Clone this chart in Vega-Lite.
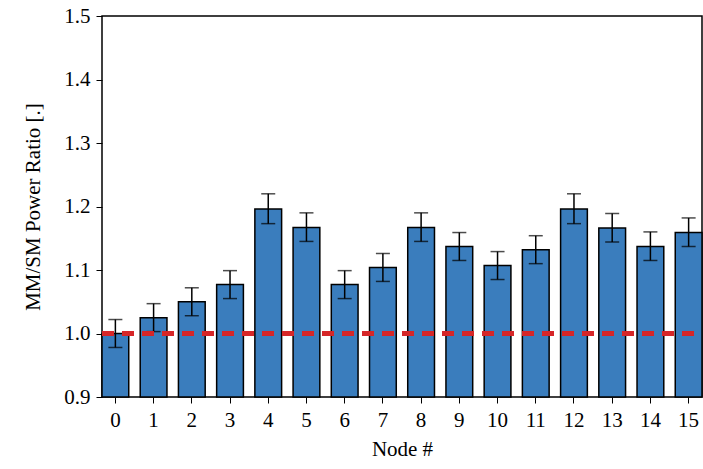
{
"$schema":"https://vega.github.io/schema/vega-lite/v6.json",
"width":600,"height":381,
"autosize":{"type":"none"},
"padding":{"left":102,"top":16,"right":1,"bottom":72},
"config":{"font":"Liberation Serif","view":{"stroke":"black","strokeWidth":1.5},
"axis":{"labelFont":"Liberation Serif","titleFont":"Liberation Serif","labelFontSize":21,"titleFontSize":21,"titleFontWeight":"normal","labelColor":"black","titleColor":"black","domain":false,"grid":false,"tickColor":"black","tickSize":6}},
"data":{"values":[
{"node":"0","v":1.000,"lo":0.978,"hi":1.022},
{"node":"1","v":1.025,"lo":1.003,"hi":1.047},
{"node":"2","v":1.050,"lo":1.028,"hi":1.072},
{"node":"3","v":1.077,"lo":1.055,"hi":1.099},
{"node":"4","v":1.196,"lo":1.173,"hi":1.220},
{"node":"5","v":1.167,"lo":1.145,"hi":1.190},
{"node":"6","v":1.077,"lo":1.055,"hi":1.099},
{"node":"7","v":1.104,"lo":1.082,"hi":1.126},
{"node":"8","v":1.167,"lo":1.145,"hi":1.190},
{"node":"9","v":1.137,"lo":1.115,"hi":1.159},
{"node":"10","v":1.107,"lo":1.085,"hi":1.129},
{"node":"11","v":1.132,"lo":1.110,"hi":1.154},
{"node":"12","v":1.196,"lo":1.173,"hi":1.220},
{"node":"13","v":1.166,"lo":1.144,"hi":1.189},
{"node":"14","v":1.137,"lo":1.115,"hi":1.160},
{"node":"15","v":1.159,"lo":1.137,"hi":1.182}
]},
"encoding":{"x":{"field":"node","type":"ordinal","sort":null,"scale":{"paddingInner":0.3,"paddingOuter":0},"axis":{"title":"Node #","labelAngle":0,"labelPadding":6,"titlePadding":8}}},
"layer":[
{"mark":{"type":"bar","color":"#3a7dbd","stroke":"black","strokeWidth":1.5},
 "encoding":{"y":{"field":"v","type":"quantitative","scale":{"domain":[0.9,1.5]},"axis":{"title":"MM/SM Power Ratio [.]","values":[0.9,1.0,1.1,1.2,1.3,1.4,1.5],"format":".1f","labelPadding":6,"titlePadding":20}},"y2":{"datum":0.9}}},
{"mark":{"type":"rule","color":"black","strokeWidth":1.5},"encoding":{"y":{"field":"lo","type":"quantitative"},"y2":{"field":"hi"}}},
{"mark":{"type":"tick","color":"black","thickness":1.5,"size":14},"encoding":{"y":{"field":"lo","type":"quantitative"}}},
{"mark":{"type":"tick","color":"black","thickness":1.5,"size":14},"encoding":{"y":{"field":"hi","type":"quantitative"}}},
{"mark":{"type":"rule","color":"#d62728","strokeWidth":3.5,"strokeDash":[12,8]},"encoding":{"x":{"value":0},"x2":{"value":600},"y":{"datum":1.0}}}
]
}
